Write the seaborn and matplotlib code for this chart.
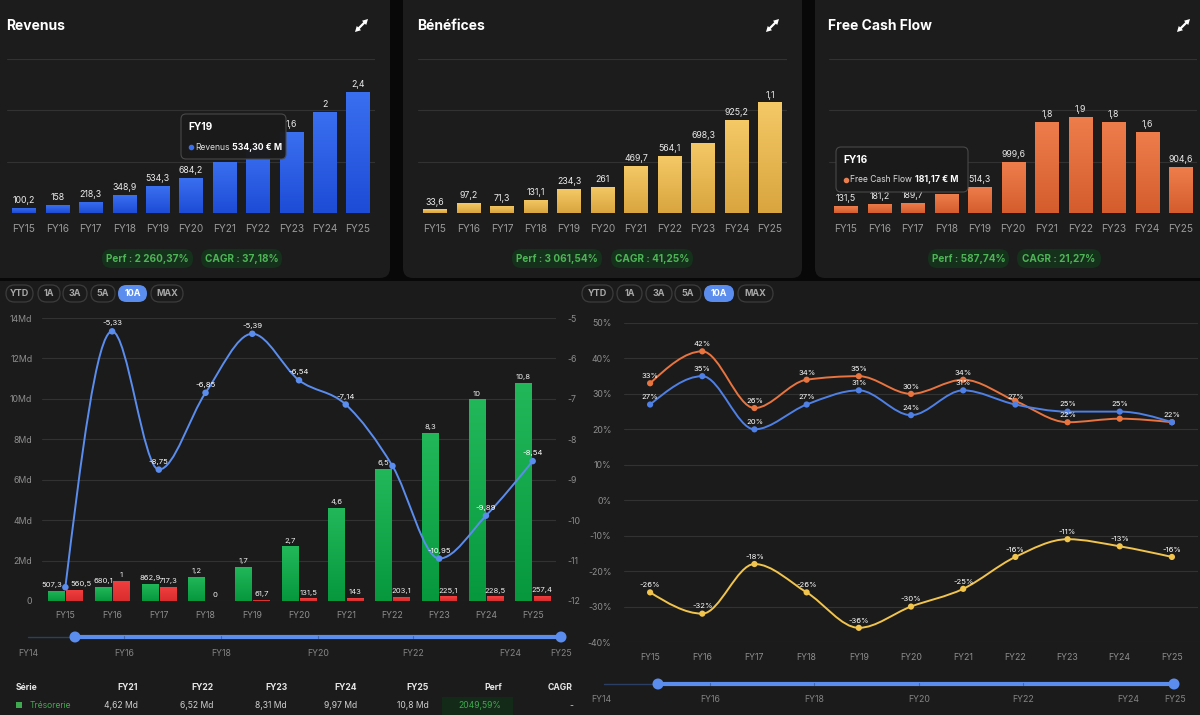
import numpy as np
import pandas as pd
import matplotlib
matplotlib.use("Agg")
import matplotlib.pyplot as plt
import seaborn as sns
from matplotlib.patches import FancyBboxPatch, Rectangle, PathPatch, Circle, Polygon
from matplotlib.path import Path
from matplotlib.colors import LinearSegmentedColormap
from matplotlib.lines import Line2D

# ------------------------------------------------------------------ data
years = ['FY15', 'FY16', 'FY17', 'FY18', 'FY19', 'FY20', 'FY21', 'FY22', 'FY23', 'FY24', 'FY25']

revenus = [100.2, 158, 218.3, 348.9, 534.3, 684.2, 1000, 1300, 1600, 2000, 2400]
revenus_labels = ['100,2', '158', '218,3', '348,9', '534,3', '684,2', '', '', '1,6', '2', '2,4']

benefices = [33.6, 97.2, 71.3, 131.1, 234.3, 261, 469.7, 564.1, 698.3, 925.2, 1100]
benefices_labels = ['33,6', '97,2', '71,3', '131,1', '234,3', '261', '469,7', '564,1', '698,3', '925,2', '1,1']

fcf = [131.5, 181.2, 189.7, 370, 514.3, 999.6, 1800, 1900, 1800, 1600, 904.6]
fcf_labels = ['131,5', '181,2', '189,7', '', '514,3', '999,6', '1,8', '1,9', '1,8', '1,6', '904,6']

tresorerie = [0.5073, 0.6801, 0.8629, 1.2, 1.7, 2.7, 4.62, 6.52, 8.31, 9.97, 10.8]
tresorerie_labels = ['507,3', '680,1', '862,9', '1,2', '1,7', '2,7', '4,6', '6,5', '8,3', '10', '10,8']
dette = [0.5605, 1.0, 0.7173, 0.0, 0.0617, 0.1315, 0.143, 0.2031, 0.2251, 0.2285, 0.2574]
dette_labels = ['560,5', '1', '717,3', '0', '61,7', '131,5', '143', '203,1', '225,1', '228,5', '257,4']
ratio = [-11.66, -5.33, -8.75, -6.85, -5.39, -6.54, -7.14, -8.66, -10.95, -9.89, -8.54]
ratio_labels = ['', '-5,33', '-8,75', '-6,85', '-5,39', '-6,54', '-7,14', '', '-10,95', '-9,89', '-8,54']

marge_orange = [33, 42, 26, 34, 35, 30, 34, 28, 22, 23, 22]
marge_orange_labels = ['33%', '42%', '26%', '34%', '35%', '30%', '34%', '', '22%', '', '22%']
marge_bleue = [27, 35, 20, 27, 31, 24, 31, 27, 25, 25, 22]
marge_bleue_labels = ['27%', '35%', '20%', '27%', '31%', '24%', '31%', '27%', '25%', '25%', '']
marge_jaune = [-26, -32, -18, -26, -36, -30, -25, -16, -11, -13, -16]
marge_jaune_labels = ['-26%', '-32%', '-18%', '-26%', '-36%', '-30%', '-25%', '-16%', '-11%', '-13%', '-16%']

left_yticks = [0, 2, 4, 6, 8, 10, 12, 14]
left_yticklabels = ['0', '2Md', '4Md', '6Md', '8Md', '10Md', '12Md', '14Md']
right_yticks = [-12, -11, -10, -9, -8, -7, -6, -5]
pct_ticks = [-40, -30, -20, -10, 0, 10, 20, 30, 40, 50]

slider_labels = ['FY14', 'FY16', 'FY18', 'FY20', 'FY22', 'FY24', 'FY25']
buttons = ['YTD', '1A', '3A', '5A', '10A', 'MAX']
table_header = ['Série', 'FY21', 'FY22', 'FY23', 'FY24', 'FY25', 'Perf', 'CAGR']
table_row = ['Trésorerie', '4,62 Md', '6,52 Md', '8,31 Md', '9,97 Md', '10,8 Md', '2049,59%', '-']

# ------------------------------------------------------------------ style
sns.set_theme(style='dark')
plt.rcParams['font.family'] = ['Inter', 'DejaVu Sans']
plt.rcParams['axes.unicode_minus'] = False

W, H = 1200, 715
PAGE = '#080808'
PANEL = '#1c1c1c'
GRID = '#323232'
TICK = '#9a9a9a'
BLUE = '#5b8def'
GREEN_TXT = '#4fb457'

fig = plt.figure(figsize=(12, 7.15), dpi=100, facecolor=PAGE)


def add_ax(x0, y0, x1, y1, **kw):
    return fig.add_axes([x0 / W, 1 - y1 / H, (x1 - x0) / W, (y1 - y0) / H], **kw)


bg = fig.add_axes([0, 0, 1, 1], zorder=-5)
bg.set_xlim(0, W); bg.set_ylim(H, 0); bg.axis('off')
bg.set_facecolor(PAGE)
fg = fig.add_axes([0, 0, 1, 1], zorder=10)
fg.set_xlim(0, W); fg.set_ylim(H, 0); fg.axis('off')
fg.patch.set_alpha(0)


def rbox(ax, x0, y0, x1, y1, r, fc, ec='none', lw=0, z=1, alpha=1):
    p = FancyBboxPatch((x0, y0), x1 - x0, y1 - y0, boxstyle=f'round,pad=0,rounding_size={r}',
                       fc=fc, ec=ec, lw=lw, zorder=z, alpha=alpha)
    ax.add_patch(p)
    return p


def expand_icon(x0, y0, x1, y1):
    p0 = np.array([x0, y0], float); p1 = np.array([x1, y1], float)
    u = (p1 - p0) / np.linalg.norm(p1 - p0)
    perp = np.array([-u[1], u[0]])
    fg.add_line(Line2D([p0[0] + u[0] * 3, p1[0] - u[0] * 3], [p0[1] + u[1] * 3, p1[1] - u[1] * 3],
                       color='white', lw=1.6, zorder=5, solid_capstyle='butt'))
    for tip, d in ((p1, -u), (p0, u)):
        base = tip + d * 5.5
        tri = [tip, base + perp * 3, base - perp * 3]
        fg.add_patch(Polygon(tri, closed=True, fc='white', ec='none', zorder=5))


# backgrounds
rbox(bg, -12, -12, 390, 278, 10, PANEL)
rbox(bg, 403, -12, 802, 278, 10, PANEL)
rbox(bg, 815, -12, 1212, 278, 10, PANEL)
bg.add_patch(Rectangle((0, 281), W, H - 281, fc='#1b1b1b', ec='none'))


def gradient_bars(ax, patches, top, bottom, z=2):
    cmap = LinearSegmentedColormap.from_list('g', [bottom, top])
    grad = np.linspace(0, 1, 64).reshape(-1, 1)
    for p in patches:
        x0, y0 = p.get_x(), p.get_y()
        w, h = p.get_width(), p.get_height()
        if h <= 0:
            continue
        im = ax.imshow(grad, extent=[x0, x0 + w, y0, y0 + h], origin='lower', aspect='auto',
                       cmap=cmap, zorder=z, interpolation='bilinear')
        im.set_clip_path(p)


def monotone_path(xs, ys):
    xs = np.asarray(xs, float); ys = np.asarray(ys, float)
    n = len(xs)
    h = np.diff(xs); s = np.diff(ys) / h
    m = np.zeros(n)
    for i in range(1, n - 1):
        if s[i - 1] * s[i] <= 0:
            m[i] = 0.0
        else:
            p = (s[i - 1] * h[i] + s[i] * h[i - 1]) / (h[i - 1] + h[i])
            m[i] = np.sign(s[i - 1]) * 2 * min(abs(s[i - 1]), abs(s[i]), 0.5 * abs(p))
    m[0] = (3 * s[0] - m[1]) / 2
    m[-1] = (3 * s[-1] - m[-2]) / 2
    verts = [(xs[0], ys[0])]
    codes = [Path.MOVETO]
    for i in range(n - 1):
        dx = (xs[i + 1] - xs[i]) / 3
        verts += [(xs[i] + dx, ys[i] + dx * m[i]), (xs[i + 1] - dx, ys[i + 1] - dx * m[i + 1]),
                  (xs[i + 1], ys[i + 1])]
        codes += [Path.CURVE4] * 3
    return Path(verts, codes)


def clean(ax):
    ax.set_facecolor('none')
    for sp in ax.spines.values():
        sp.set_visible(False)
    ax.set_xlabel(''); ax.set_ylabel('')


# ------------------------------------------------------------------ top panels
def top_panel(xl, xr, values, labels, ymax, c_top, c_bot, title, tx, icon_x, badges):
    ax = add_ax(xl, 59.3, xr, 212.7)
    sns.barplot(x=years, y=values, ax=ax, color=c_bot, width=0.7, saturation=1, linewidth=0)
    gradient_bars(ax, list(ax.patches), c_top, c_bot)
    ax.bar_label(ax.containers[0], labels=labels, padding=2, fontsize=6.3, color='#ececec')
    ax.set_xlim(-0.5, 10.5); ax.set_ylim(0, ymax)
    ax.set_yticks(np.linspace(0, ymax, 4)); ax.set_yticklabels([])
    ax.tick_params(axis='y', length=0)
    ax.tick_params(axis='x', length=0, pad=8, labelsize=7.3, labelcolor=TICK)
    ax.grid(axis='y', color=GRID, lw=0.8); ax.grid(axis='x', visible=False)
    ax.set_axisbelow(True)
    clean(ax)
    fg.text(tx, 26, title, fontsize=10, fontweight='bold', color='white', va='center', ha='left')
    expand_icon(icon_x, 32, icon_x + 13, 19)
    for (bx0, bx1, txt) in badges:
        rbox(fg, bx0, 249, bx1, 268, 9, '#15301b', z=3)
        fg.text((bx0 + bx1) / 2, 258.5, txt, fontsize=7.2, fontweight='bold', color=GREEN_TXT,
                ha='center', va='center', zorder=4)
    return ax


top_panel(7.3, 374.7, revenus, revenus_labels, 3040, '#3a6ff0', '#1d4cd6', 'Revenus', 6, 355,
          [(102, 193, 'Perf : 2 260,37%'), (201, 282, 'CAGR : 37,18%')])
top_panel(418.3, 786.8, benefices, benefices_labels, 1530, '#f4c966', '#d9a53f', 'Bénéfices', 417, 766,
          [(512, 602, 'Perf : 3 061,54%'), (611, 693, 'CAGR : 41,25%')])
top_panel(829, 1197.5, fcf, fcf_labels, 3030, '#ee7d4c', '#d55d2d', 'Free Cash Flow', 828, 1177,
          [(928, 1009, 'Perf : 587,74%'), (1017, 1101, 'CAGR : 21,27%')])

# tooltips
fig.canvas.draw()
renderer = fig.canvas.get_renderer()


def tooltip(x0, y0, x1, y1, head, name, value, dot_color):
    rbox(fg, x0, y0, x1, y1, 5, '#1a1a1a', ec='#4a4a4a', lw=0.8, z=6, alpha=0.97)
    fg.text(x0 + 7, y0 + 13, head, fontsize=7.3, fontweight='bold', color='white', va='center', zorder=7)
    yr = y0 + 33
    fg.plot([x0 + 9.5], [yr], 'o', ms=3, color=dot_color, zorder=7)
    t = fg.text(x0 + 14, yr, name, fontsize=6.1, color='#dddddd', va='center', zorder=7)
    bb = t.get_window_extent(renderer=renderer)
    x_end = fg.transData.inverted().transform((bb.x1, bb.y0))[0]
    fg.text(x_end + 3, yr, value, fontsize=6.3, fontweight='bold', color='white', va='center', zorder=7)


tooltip(181, 114, 286, 159, 'FY19', 'Revenus', '534,30 € M', '#3a6ff0')
tooltip(836, 147, 968, 192, 'FY16', 'Free Cash Flow', '181,17 € M', '#ee7d4c')


# ------------------------------------------------------------------ buttons
def button_row(specs):
    for (x0, x1), lab in zip(specs, buttons):
        active = lab == '10A'
        rbox(fg, x0, 285, x1, 302, 8.5, BLUE if active else 'none',
             ec='none' if active else '#3c3c3c', lw=0.9, z=3)
        fg.text((x0 + x1) / 2, 293.5, lab, fontsize=6.5, fontweight='bold',
                color='white' if active else '#a8a8a8', ha='center', va='center', zorder=4)


button_row([(6, 33), (38, 60), (63, 87), (91, 115), (118, 147), (151, 183)])
button_row([(582, 613), (617, 642), (646, 672), (675, 701), (704, 734), (738, 773)])

# ------------------------------------------------------------------ bottom-left chart
df = pd.DataFrame({'year': years * 2,
                   'serie': ['Trésorerie'] * len(years) + ['Dette'] * len(years),
                   'val': tresorerie + dette})
ax = add_ax(42, 318, 556, 601)
sns.barplot(data=df, x='year', y='val', hue='serie', hue_order=['Trésorerie', 'Dette'],
            palette={'Trésorerie': '#0c9b42', 'Dette': '#e03233'}, width=0.78, gap=0.1,
            saturation=1, legend=False, linewidth=0, ax=ax)
gradient_bars(ax, list(ax.containers[0]), '#22b85a', '#07983d')
gradient_bars(ax, list(ax.containers[1]), '#f2403f', '#d92c2e')
g_lbl = ax.bar_label(ax.containers[0], labels=tresorerie_labels, padding=2, fontsize=5.5, color='#f0f0f0')
r_lbl = ax.bar_label(ax.containers[1], labels=dette_labels, padding=2, fontsize=5.5, color='#f0f0f0')
# the first pair of labels sits side by side in the reference; nudge them apart slightly
g_lbl[0].set_horizontalalignment('right'); g_lbl[0].xyann = (4, 2)
r_lbl[0].set_horizontalalignment('left'); r_lbl[0].xyann = (-3, 2)
ax.set_xlim(-0.5, 10.5); ax.set_ylim(0, 14)
ax.set_yticks(left_yticks); ax.set_yticklabels(left_yticklabels)
ax.tick_params(axis='y', length=0, pad=7, labelsize=6.3, labelcolor='#8e8e8e')
ax.tick_params(axis='x', length=0, pad=7, labelsize=6.3, labelcolor='#8e8e8e')
ax.grid(axis='y', color=GRID, lw=0.8); ax.grid(axis='x', visible=False)
ax.set_axisbelow(True)
clean(ax)

ax2 = ax.twinx()
ax2.set_ylim(-12, -5)
xs = np.arange(len(years))
ax2.add_patch(PathPatch(monotone_path(xs, ratio), fc='none', ec=BLUE, lw=1.4, zorder=3))
sns.scatterplot(x=xs, y=ratio, ax=ax2, color=BLUE, s=22, edgecolor='none', zorder=4, legend=False)
for i, (v, lab) in enumerate(zip(ratio, ratio_labels)):
    if lab:
        ax2.annotate(lab, (i, v), xytext=(0, 3.5), textcoords='offset points', ha='center',
                     va='bottom', fontsize=5.6, color='white', zorder=5)
ax2.set_yticks(right_yticks); ax2.set_yticklabels([str(t) for t in right_yticks])
ax2.tick_params(axis='y', length=0, pad=8, labelsize=6.3, labelcolor='#8e8e8e')
ax2.set_xlim(-0.5, 10.5)
ax2.grid(False)
clean(ax2)

# ------------------------------------------------------------------ bottom-right chart
ax3 = add_ax(624, 323, 1198, 642)
series = [(marge_orange, marge_orange_labels, '#e8743f'),
          (marge_bleue, marge_bleue_labels, '#4f80e6'),
          (marge_jaune, marge_jaune_labels, '#f1c44e')]
for vals, labs, col in series:
    ax3.add_patch(PathPatch(monotone_path(xs, vals), fc='none', ec=col, lw=1.4, zorder=3))
    sns.scatterplot(x=xs, y=vals, ax=ax3, color=col, s=20, edgecolor='none', zorder=4, legend=False)
    for i, (v, lab) in enumerate(zip(vals, labs)):
        if lab:
            ax3.annotate(lab, (i, v), xytext=(0, 3), textcoords='offset points', ha='center',
                         va='bottom', fontsize=5.5, color='white', zorder=5)
ax3.set_xlim(-0.5, 10.5); ax3.set_ylim(-40, 50)
ax3.set_xticks(xs); ax3.set_xticklabels(years)
ax3.set_yticks(pct_ticks); ax3.set_yticklabels([f'{t}%' for t in pct_ticks])
ax3.tick_params(axis='y', length=0, pad=9, labelsize=6.3, labelcolor='#8e8e8e')
ax3.tick_params(axis='x', length=0, pad=8, labelsize=6.3, labelcolor='#8e8e8e')
ax3.grid(axis='y', color=GRID, lw=0.8); ax3.grid(axis='x', visible=False)
ax3.set_axisbelow(True)
clean(ax3)


# ------------------------------------------------------------------ sliders
def slider(x_start, x_h0, x_h1, y, label_x, label_y):
    fg.add_line(Line2D([x_start, x_h0], [y, y], color='#2a3f66', lw=1, zorder=3))
    fg.add_line(Line2D([x_h0, x_h1], [y, y], color=BLUE, lw=3, zorder=3, solid_capstyle='butt'))
    for lx in label_x[1:-2]:
        fg.add_line(Line2D([lx, lx], [y - 1.2, y + 1.2], color='#3f66b0', lw=0.8, zorder=4))
    for hx in (x_h0, x_h1):
        fg.add_patch(Circle((hx, y), 5.5, fc=BLUE, ec='none', zorder=5))
    for lx, lab in zip(label_x, slider_labels):
        fg.text(lx, label_y, lab, fontsize=6.3, color='#858585', ha='center', va='center', zorder=4)


slider(28, 75, 561, 637, [28, 124, 221, 318, 413, 510, 561], 653)
slider(604, 658, 1174, 684, [601, 710, 814, 919, 1023, 1128, 1175], 700)

# ------------------------------------------------------------------ table
col_x = [16, 138, 213, 287, 357, 429, 502, 573]
for j, (cx, lab) in enumerate(zip(col_x, table_header)):
    fg.text(cx, 687, lab, fontsize=6.2, fontweight='bold', color='#e6e6e6',
            ha='left' if j == 0 else 'right', va='center', zorder=4)
fg.add_patch(Rectangle((442, 697), 71, 18, fc='#132a18', ec='none', zorder=3))
fg.add_patch(Rectangle((16, 702), 6, 6, fc='#3ea94f', ec='none', zorder=4))
fg.text(30, 705.5, table_row[0], fontsize=6.2, color='#46a654', ha='left', va='center', zorder=4)
for cx, val in zip(col_x[1:6], table_row[1:6]):
    fg.text(cx, 705.5, val, fontsize=6.2, color='#cfcfcf', ha='right', va='center', zorder=4)
fg.text(480, 705.5, table_row[6], fontsize=6.2, color='#3fa84f', ha='center', va='center', zorder=4)
fg.text(573, 705.5, table_row[7], fontsize=6.2, color='#cfcfcf', ha='right', va='center', zorder=4)

fig.savefig('out.png', dpi=100, facecolor=fig.get_facecolor())
